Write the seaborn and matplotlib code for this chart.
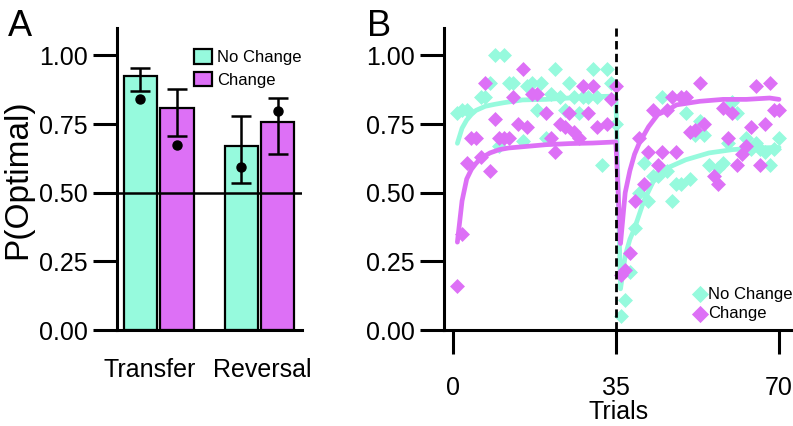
import numpy as np
import pandas as pd
import matplotlib
matplotlib.use("Agg")
import matplotlib.pyplot as plt
from matplotlib.transforms import ScaledTranslation
import seaborn as sns

# ---- panel A data ----
phases = ["Transfer", "Reversal"]
conditions = ["No Change", "Change"]
bar_nochange = [0.925, 0.671]
bar_change = [0.809, 0.759]
err_lo_nochange = [0.872, 0.535]
err_hi_nochange = [0.955, 0.781]
err_lo_change = [0.708, 0.642]
err_hi_change = [0.878, 0.846]
dot_nochange = [0.842, 0.592]
dot_change = [0.673, 0.796]

# ---- panel B data ----
nc_trials = [1, 2, 3, 6, 7, 8, 9, 10, 11, 12, 13, 15, 16, 17, 18, 19, 20, 21, 22, 23,
             24, 25, 26, 27, 28, 29, 30, 31, 32, 33, 34, 35,
             36, 37, 38, 39, 40, 41, 42, 43, 44, 45, 46, 47, 48, 49, 50, 51, 52, 53,
             54, 55, 57, 58, 59, 60, 61, 63, 64, 65, 66, 67, 68, 69, 70]
nc_points = [0.79, 0.80, 0.80, 0.85, 0.85, 0.90, 1.00, 0.67, 1.00, 0.90, 0.90, 0.69,
             0.89, 0.90, 0.80, 0.90, 0.70, 0.86, 0.95, 0.85, 0.80, 0.90, 0.85, 0.79,
             0.85, 0.85, 0.95, 0.85, 0.60, 0.95, 0.90, 0.75,
             0.05, 0.11, 0.21, 0.37, 0.50, 0.61, 0.47, 0.56, 0.56, 0.85, 0.58, 0.47,
             0.53, 0.53, 0.79, 0.55, 0.71, 0.76, 0.71, 0.60, 0.59, 0.61, 0.68, 0.83,
             0.79, 0.70, 0.66, 0.68, 0.66, 0.65, 0.60, 0.66, 0.70]
ch_trials = [1, 2, 3, 4, 5, 6, 7, 8, 9, 10, 11, 12, 13, 14, 15, 16, 17, 18, 20, 21,
             22, 23, 24, 25, 26, 27, 28, 29, 30, 31, 33, 34, 35,
             36, 37, 38, 39, 40, 41, 42, 43, 44, 45, 46, 47, 48, 49, 50, 51, 52, 53,
             54, 56, 57, 58, 59, 60, 61, 62, 63, 64, 65, 66, 67, 68, 69, 70]
ch_points = [0.16, 0.35, 0.61, 0.70, 0.70, 0.63, 0.90, 0.58, 0.77, 0.70, 0.70, 0.70,
             0.85, 0.75, 0.95, 0.74, 0.86, 0.86, 0.79, 0.70, 0.65, 0.75, 0.74, 0.79,
             0.72, 0.70, 0.89, 0.79, 0.89, 0.74, 0.75, 0.84, 0.89,
             0.20, 0.22, 0.28, 0.47, 0.70, 0.53, 0.65, 0.80, 0.60, 0.65, 0.80, 0.85,
             0.65, 0.85, 0.85, 0.72, 0.73, 0.90, 0.75, 0.56, 0.53, 0.81, 0.70, 0.79,
             0.60, 0.64, 0.67, 0.74, 0.89, 0.60, 0.75, 0.90, 0.80, 0.80]

# fitted curves
nc_curve_trials = [1, 2, 3, 4, 5, 7, 9, 11, 15, 20, 25, 30, 35,
                   36, 37, 38, 39, 41, 43, 46, 50, 55, 60, 65, 70]
nc_curve = [0.68, 0.735, 0.765, 0.785, 0.80, 0.815, 0.822, 0.828, 0.838, 0.84, 0.845,
            0.85, 0.852, 0.15, 0.27, 0.33, 0.37, 0.47, 0.54, 0.59, 0.62, 0.645, 0.657,
            0.663, 0.665]
ch_curve_trials = [1, 2, 3, 4, 5, 6, 8, 10, 12, 16, 20, 25, 30, 35,
                   36, 37, 38, 39, 40, 42, 44, 46, 48, 53, 58, 63, 68, 70]
ch_curve = [0.32, 0.47, 0.55, 0.585, 0.607, 0.625, 0.645, 0.657, 0.663, 0.669, 0.675,
            0.679, 0.681, 0.685, 0.315, 0.50, 0.58, 0.64, 0.68, 0.74, 0.785, 0.80, 0.82,
            0.833, 0.84, 0.84, 0.845, 0.84]

teal = "#96FADD"
magenta = "#DD70F6"
palette = {"No Change": teal, "Change": magenta}

sns.set_style("ticks")
plt.rcParams["font.family"] = ["Liberation Sans", "DejaVu Sans"]
plt.rcParams.update({
    "axes.linewidth": 2.2, "axes.edgecolor": "black", "axes.labelcolor": "black",
    "text.color": "black", "xtick.color": "black", "ytick.color": "black",
})

fig = plt.figure(figsize=(7.93, 4.26), dpi=100)
W, H = 793, 426
axA = fig.add_axes([117 / W, 96 / H, 185 / W, 302 / H])
axB = fig.add_axes([444 / W, 96 / H, 349 / W, 302 / H])

# ---------------- panel A ----------------
bars = pd.DataFrame({
    "phase": phases * 2,
    "condition": [conditions[0]] * 2 + [conditions[1]] * 2,
    "p": bar_nochange + bar_change,
})
sns.barplot(data=bars, x="phase", y="p", hue="condition", hue_order=conditions,
            order=phases, palette=palette, width=0.725, gap=0.09, errorbar=None,
            edgecolor="black", linewidth=1.6, saturation=1, ax=axA)

patches = sorted([p for p in axA.patches if p.get_width() > 0],
                 key=lambda p: p.get_x())
xs = [p.get_x() + p.get_width() / 2 for p in patches]
lo = [err_lo_nochange[0], err_lo_change[0], err_lo_nochange[1], err_lo_change[1]]
hi = [err_hi_nochange[0], err_hi_change[0], err_hi_nochange[1], err_hi_change[1]]
dots = [dot_nochange[0], dot_change[0], dot_nochange[1], dot_change[1]]
mid = [(a + b) / 2 for a, b in zip(lo, hi)]
half = [(b - a) / 2 for a, b in zip(lo, hi)]
axA.errorbar(xs, mid, yerr=half, fmt="none", ecolor="black", elinewidth=1.8,
             capsize=7, capthick=1.8, zorder=4)
axA.plot(xs, dots, "o", color="black", ms=6.5, zorder=5)
axA.axhline(0.5, color="black", lw=1.8, zorder=3)

axA.set_xlim(-0.414, 1.422)
axA.set_ylim(0, 1.10)
axA.set_yticks([0, 0.25, 0.5, 0.75, 1.0])
axA.set_yticklabels(["0.00", "0.25", "0.50", "0.75", "1.00"])
axA.set_xlabel("")
axA.set_ylabel("P(Optimal)", fontsize=24, labelpad=4)
axA.tick_params(axis="y", length=17, width=2.2, labelsize=18, pad=4)
axA.tick_params(axis="x", length=0, labelsize=18, pad=20)
for lab, dx in zip(axA.get_xticklabels(), [-0.088, 0.025]):
    lab.set_transform(lab.get_transform() + ScaledTranslation(dx, 0, fig.dpi_scale_trans))
sns.despine(ax=axA)
sns.move_legend(axA, "upper left", bbox_to_anchor=(0.415, 0.93), frameon=False,
                title=None, fontsize=12, handlelength=1.1, handleheight=0.95,
                handletextpad=0.3, labelspacing=0.4, borderpad=0, borderaxespad=0)
for h in axA.get_legend().get_patches():
    h.set_edgecolor("black")
    h.set_linewidth(1.6)

# ---------------- panel B ----------------
df_nc = pd.DataFrame({"trial": nc_trials, "p": nc_points})
df_ch = pd.DataFrame({"trial": ch_trials, "p": ch_points})
curve_nc = pd.DataFrame({"trial": nc_curve_trials, "p": nc_curve})
curve_ch = pd.DataFrame({"trial": ch_curve_trials, "p": ch_curve})

sns.scatterplot(data=df_nc, x="trial", y="p", marker="D", s=58, color=teal,
                linewidth=0, label="No Change", zorder=1, ax=axB)
sns.lineplot(data=curve_nc, x="trial", y="p", color=teal, lw=3.4, zorder=2, ax=axB)
sns.lineplot(data=curve_ch, x="trial", y="p", color=magenta, lw=3.4, zorder=3, ax=axB)
sns.scatterplot(data=df_ch, x="trial", y="p", marker="D", s=58, color=magenta,
                linewidth=0, label="Change", zorder=4, ax=axB)
axB.axvline(35, color="black", lw=2.0, ls=(0, (3, 1.6)), zorder=5)

axB.set_xlim(-1.87, 73.0)
axB.set_ylim(0, 1.10)
axB.set_xticks([0, 35, 70])
axB.set_yticks([0, 0.25, 0.5, 0.75, 1.0])
axB.set_yticklabels(["0.00", "0.25", "0.50", "0.75", "1.00"])
axB.set_xlabel("Trials", fontsize=18, labelpad=0)
axB.set_ylabel("")
axB.tick_params(axis="both", length=17, width=2.2, labelsize=18)
axB.tick_params(axis="y", pad=4)
axB.tick_params(axis="x", pad=16)
sns.despine(ax=axB)
axB.legend(loc="lower right", bbox_to_anchor=(1.0, 0.03), frameon=False, fontsize=12,
           markerscale=1.15, handlelength=0.7, handletextpad=0.15, labelspacing=0.25,
           borderpad=0, borderaxespad=0)

fig.text(8 / W, 1 - 36 / H, "A", fontsize=26, va="baseline", ha="left")
fig.text(367 / W, 1 - 36 / H, "B", fontsize=26, va="baseline", ha="left")

fig.savefig("out.png", dpi=100)
